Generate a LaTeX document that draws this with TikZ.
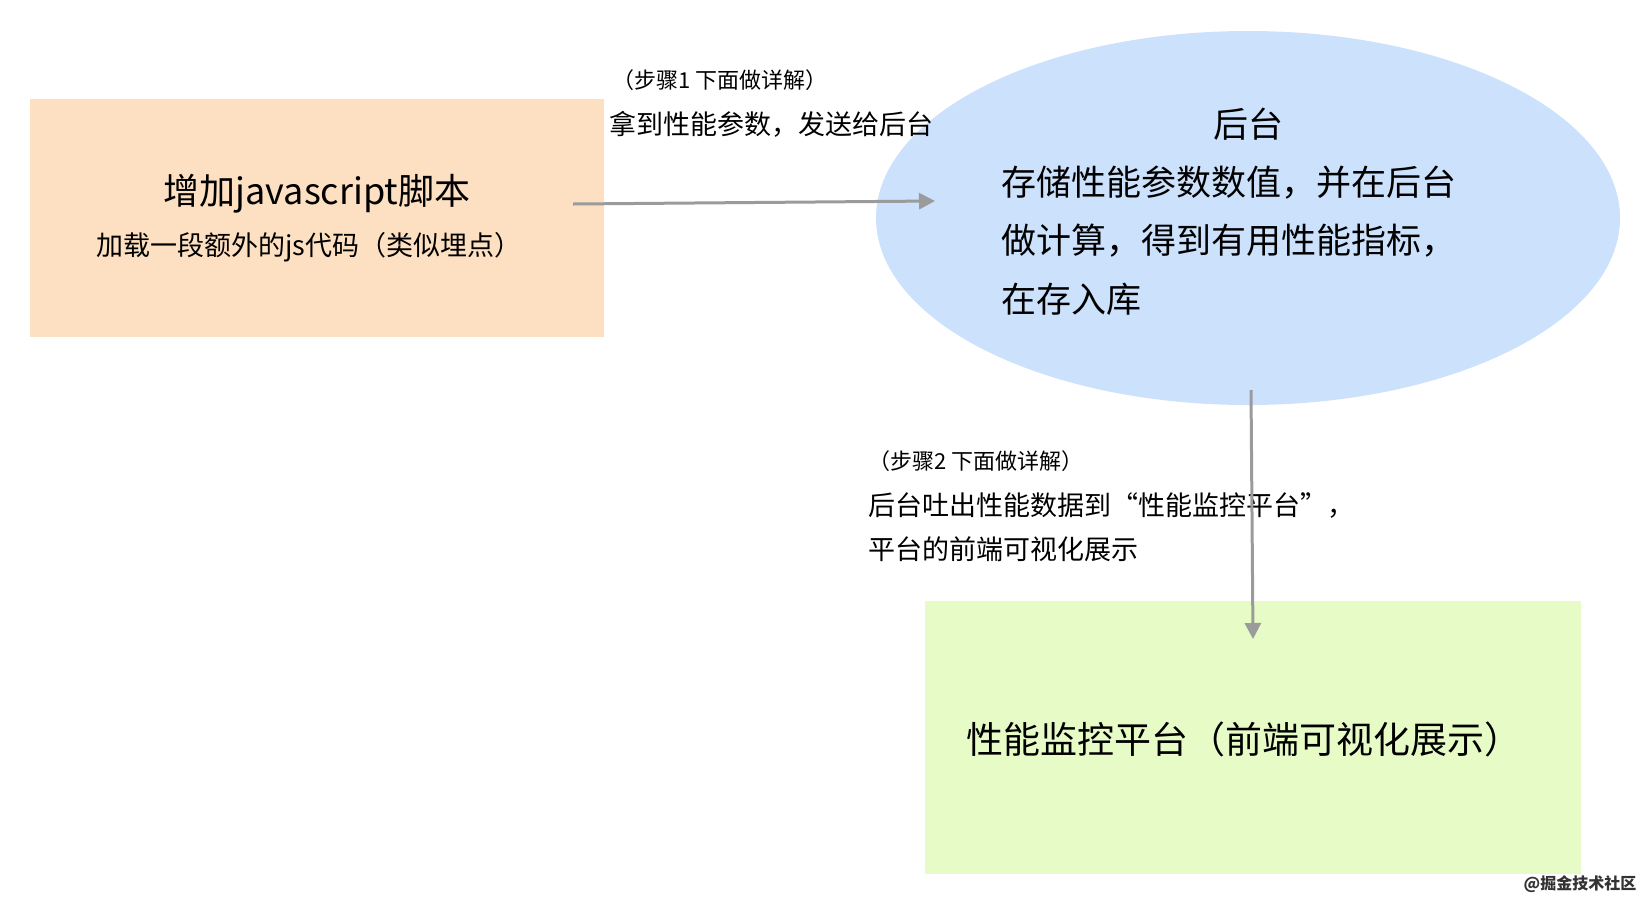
\documentclass[tikz,border=0pt]{standalone}
\usepackage{fontspec}
\setmainfont{Noto Sans CJK SC}
\usetikzlibrary{arrows.meta}
\definecolor{boxorange}{HTML}{FDDFC1}
\definecolor{ellblue}{HTML}{CCE1FB}
\definecolor{boxgreen}{HTML}{E7FBC7}
\definecolor{arrgray}{HTML}{9B9B9B}
\tikzset{
  conn/.style={draw=arrgray, line width=3pt, -{Triangle[length=16pt,width=16pt]}},
  lbl/.style={inner sep=0pt, anchor=west, font=\fontsize{27}{32}\selectfont},
  lblsmall/.style={inner sep=0pt, anchor=west, font=\fontsize{22}{26}\selectfont}
}
\begin{document}
\begin{tikzpicture}[x=1pt, y=-1pt]
  \useasboundingbox (0,0) rectangle (1648,906);
  % boxes
  \fill[boxorange] (30,99) rectangle (604,337);
  \fill[ellblue] (1248,218) ellipse [x radius=372, y radius=187];
  \fill[boxgreen] (925,601) rectangle (1581,874);

  \node[inner sep=0pt, font=\fontsize{36}{40}\selectfont] (script) at (317,194) {增加javascript脚本};
  \node[inner sep=0pt, font=\fontsize{27}{32}\selectfont] (scriptsub) at (309,247) {加载一段额外的js代码（类似埋点）};

  \node[inner sep=0pt, font=\fontsize{35}{40}\selectfont] (backend) at (1248,124) {后台};
  \node[lbl, font=\fontsize{35}{40}\selectfont] (backl1) at (1001,183) {存储性能参数数值，并在后台};
  \node[lbl, font=\fontsize{35}{40}\selectfont] (backl2) at (1001,241) {做计算，得到有用性能指标，};
  \node[lbl, font=\fontsize{35}{40}\selectfont] (backl3) at (1001,299) {在存入库};

  \node[inner sep=0pt, font=\fontsize{37}{42}\selectfont] (platform) at (1244,739) {性能监控平台（前端可视化展示）};

  % step labels
  \node[lblsmall] (step1a) at (612,80) {（步骤1 下面做详解）};
  \node[lbl] (step1b) at (609,124) {拿到性能参数，发送给后台};
  \node[lblsmall] (step2a) at (868,461) {（步骤2 下面做详解）};
  \node[lbl] (step2b) at (868,505) {后台吐出性能数据到“性能监控平台”，};
  \node[lbl] (step2c) at (868,549) {平台的前端可视化展示};

  % connectors
  \coordinate (a1s) at (573,204);
  \coordinate (a1e) at (935,201);
  \coordinate (a2s) at (1251,390);
  \coordinate (a2e) at (1253,639);
  \draw[conn] (a1s) -- (a1e);
  \draw[conn] (a2s) -- (a2e);

  \node[inner sep=0pt, font=\bfseries\fontsize{16}{18}\selectfont, text=black!80] (mark) at (1580,884) {@掘金技术社区};
\end{tikzpicture}
\end{document}
